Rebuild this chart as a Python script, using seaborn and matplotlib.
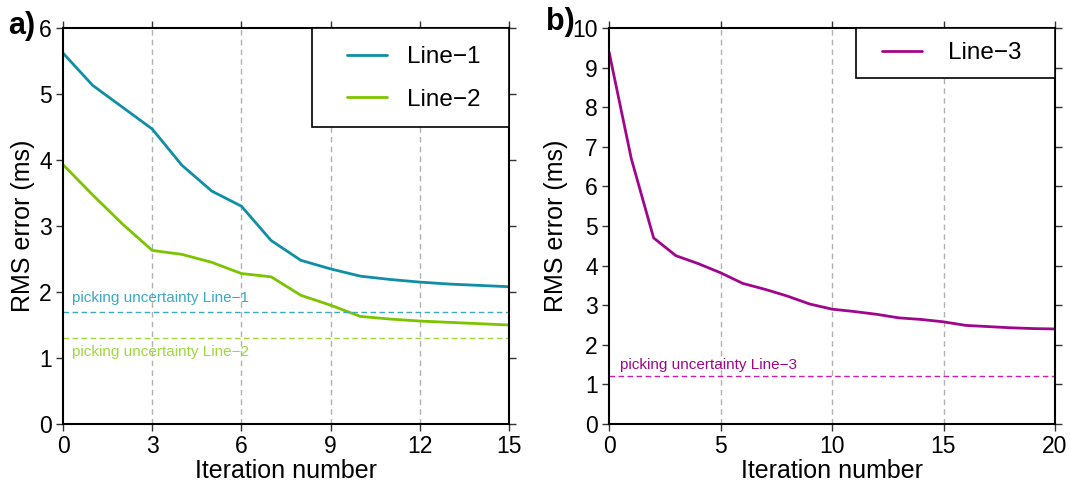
import numpy as np
import pandas as pd
import matplotlib
matplotlib.use("Agg")
import matplotlib.pyplot as plt
from matplotlib.patches import Rectangle
import seaborn as sns

iter_a = list(range(16))
line1 = [5.62, 5.13, 4.80, 4.47, 3.92, 3.53, 3.30, 2.78, 2.48, 2.35, 2.24, 2.19, 2.15, 2.12, 2.10, 2.08]
line2 = [3.93, 3.47, 3.03, 2.63, 2.57, 2.45, 2.28, 2.23, 1.95, 1.80, 1.63, 1.59, 1.56, 1.54, 1.52, 1.50]
iter_b = list(range(21))
line3 = [9.40, 6.70, 4.70, 4.25, 4.05, 3.82, 3.55, 3.40, 3.23, 3.03, 2.90, 2.84, 2.77, 2.68,
         2.64, 2.58, 2.49, 2.46, 2.43, 2.41, 2.40]
pick1, pick2, pick3 = 1.7, 1.3, 1.2
xticks_a = [0, 3, 6, 9, 12, 15]
xticks_b = [0, 5, 10, 15, 20]
yticks_a = [0, 1, 2, 3, 4, 5, 6]
yticks_b = list(range(11))

c1, c2, c3 = "#0e8fa6", "#7cc400", "#a0068c"
c1d, c2d, c3d = "#3aa9c2", "#9fd83c", "#d01ab4"

sns.set_style("ticks")
plt.rcParams["font.family"] = ["Liberation Sans", "DejaVu Sans"]
plt.rcParams["axes.linewidth"] = 1.5
for k in ["text.color", "axes.labelcolor", "xtick.color", "ytick.color", "axes.edgecolor"]:
    plt.rcParams[k] = "black"

fig = plt.figure(figsize=(10.7, 4.83), dpi=100)
axA = fig.add_axes([63/1070, 1-424/483, (509-63)/1070, (424-28)/483])
axB = fig.add_axes([609/1070, 1-424/483, (1055-609)/1070, (424-28)/483])

dfA = pd.DataFrame({"it": iter_a * 2, "rms": line1 + line2,
                    "line": ["Line\u22121"] * len(iter_a) + ["Line\u22122"] * len(iter_a)})
dfB = pd.DataFrame({"it": iter_b, "rms": line3, "line": ["Line\u22123"] * len(iter_b)})

def style(ax, xt, yt, xmax, ymax):
    ax.set_xlim(0, xmax)
    ax.set_ylim(0, ymax)
    ax.set_xticks(xt)
    ax.set_yticks(yt)
    for x in xt[1:-1]:
        ax.axvline(x, color="#b0b0b0", lw=1.0, ls=(0, (4, 3)), zorder=0)
    for s in ax.spines.values():
        s.set_visible(True)
        s.set_linewidth(1.5)
        s.set_color("black")
    ax.tick_params(axis="both", direction="out", length=5, width=1.0, labelsize=16.5,
                   top=True, right=True, color="#333333", labelcolor="black", pad=3)
    ax.set_xlabel("Iteration number", fontsize=18, labelpad=1)
    ax.set_ylabel("RMS error (ms)", fontsize=18, labelpad=3)

def make_legend(ax, box_x0, box_h, anchor_x, anchor_y, spacing, textpad):
    ax.add_patch(Rectangle((box_x0, 1.0 - box_h), 1.0 - box_x0, box_h, transform=ax.transAxes,
                           facecolor="white", edgecolor="black", lw=1.2, zorder=4, clip_on=False))
    leg = ax.legend(title=None, loc="center left", bbox_to_anchor=(anchor_x, anchor_y),
                    borderaxespad=0, borderpad=0, fontsize=17.5, frameon=False,
                    handlelength=1.65, labelspacing=spacing, handletextpad=textpad)
    leg.set_zorder(5)
    return leg

sns.lineplot(data=dfA, x="it", y="rms", hue="line", palette=[c1, c2], lw=2.0, ax=axA)
style(axA, xticks_a, yticks_a, 15, 6)
axA.axhline(pick1, color=c1d, lw=1.0, ls=(0, (4, 2.5)))
axA.axhline(pick2, color=c2d, lw=1.0, ls=(0, (4, 2.5)))
axA.text(0.3, pick1 + 0.1, "picking uncertainty Line\u22121", color=c1d, fontsize=11, va="bottom")
axA.text(0.3, pick2 - 0.1, "picking uncertainty Line\u22122", color=c2d, fontsize=11, va="top")
make_legend(axA, (312-63)/446, 99/396, (347-63)/446, 1-(78.5-28)/396, 0.85, 0.8)

sns.lineplot(data=dfB, x="it", y="rms", hue="line", palette=[c3], lw=2.0, ax=axB)
style(axB, xticks_b, yticks_b, 20, 10)
axB.axhline(pick3, color=c3d, lw=1.0, ls=(0, (4, 2.5)))
axB.text(0.5, pick3 + 0.12, "picking uncertainty Line\u22123", color=c3, fontsize=11, va="bottom")
make_legend(axB, (856-609)/446, 50/396, (882-609)/446, 1-(53-28)/396, 0.5, 1.07)

fig.text(8/1070, 1-26/483, "a)", fontsize=22, fontweight="bold", va="center", ha="left")
fig.text(546/1070, 1-22/483, "b)", fontsize=22, fontweight="bold", va="center", ha="left")

fig.savefig("out.png", dpi=100)
